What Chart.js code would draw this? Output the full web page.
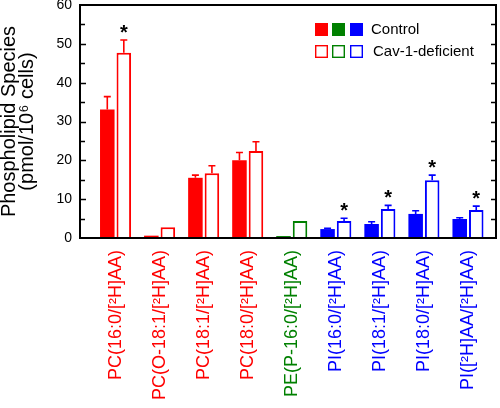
<!DOCTYPE html>
<html>
<head>
<meta charset="utf-8">
<script src="https://cdn.jsdelivr.net/npm/chart.js@4/dist/chart.umd.min.js"></script>
<style>
  html, body { margin: 0; padding: 0; background: #ffffff; }
  #c { display: block; }
</style>
</head>
<body>
<canvas id="c" width="500" height="408"></canvas>
<script>
// ---- Data ----
const categories = ['PC(16:0/[²H]AA)', 'PC(O-18:1/[²H]AA)', 'PC(18:1/[²H]AA)', 'PC(18:0/[²H]AA)',
                    'PE(P-16:0/[²H]AA)', 'PI(16:0/[²H]AA)', 'PI(18:1/[²H]AA)', 'PI(18:0/[²H]AA)',
                    'PI([²H]AA/[²H]AA)'];
const classColors = ['#ff0000', '#ff0000', '#ff0000', '#ff0000', '#008000', '#0000ff', '#0000ff', '#0000ff', '#0000ff'];
const control    = [33.1, 0.6, 15.5, 20.0, 0.5, 2.3, 3.6, 6.2, 4.9];
const controlErr = [3.3, 0, 0.7, 2.0, 0, 0.2, 0.6, 0.8, 0.3];
const cav1       = [47.7, 2.8, 16.7, 22.4, 4.4, 4.4, 7.5, 14.9, 7.2];
const cav1Err    = [3.3, 0, 1.9, 2.4, 0, 0.7, 0.9, 1.3, 1.0];
const significant = [true, false, false, false, false, true, true, true, true];
const yTicks = [0, 10, 20, 30, 40, 50, 60];
const legendLabels = ['Control', 'Cav-1-deficient'];
const legendColors = ['#ff0000', '#008000', '#0000ff'];

const FONT = "'Liberation Sans', Arial, Helvetica, sans-serif";

const decorPlugin = {
  id: 'decor',
  afterDatasetsDraw(chart) {
    const ctx = chart.ctx;
    const y = chart.scales.y;
    const sets = [[control, controlErr], [cav1, cav1Err]];
    ctx.save();
    sets.forEach((s, di) => {
      const meta = chart.getDatasetMeta(di);
      s[0].forEach((v, i) => {
        const e = s[1][i];
        if (!e) return;
        const bx = meta.data[i].x;
        const y0 = y.getPixelForValue(v);
        const y1 = y.getPixelForValue(v + e);
        ctx.strokeStyle = classColors[i];
        ctx.lineWidth = 1.6;
        ctx.beginPath();
        ctx.moveTo(bx, y0);
        ctx.lineTo(bx, y1);
        ctx.moveTo(bx - 3.5, y1);
        ctx.lineTo(bx + 3.5, y1);
        ctx.stroke();
      });
    });
    // significance asterisks
    const meta1 = chart.getDatasetMeta(1);
    ctx.fillStyle = '#000';
    ctx.font = 'bold 20px ' + FONT;
    ctx.textAlign = 'center';
    ctx.textBaseline = 'alphabetic';
    significant.forEach((sig, i) => {
      if (!sig) return;
      const bx = meta1.data[i].x;
      const top = y.getPixelForValue(cav1[i] + cav1Err[i]);
      ctx.fillText('*', bx, top - 1);
    });
    ctx.restore();
  },
  afterDraw(chart) {
    const ctx = chart.ctx;
    const a = chart.chartArea;
    const y = chart.scales.y;
    ctx.save();
    ctx.strokeStyle = '#000';
    ctx.lineWidth = 2;
    ctx.strokeRect(a.left, a.top, a.right - a.left, a.bottom - a.top);
    // inward tick marks every 5 units on left and right
    ctx.lineWidth = 1.6;
    ctx.beginPath();
    for (let v = 5; v < 60; v += 5) {
      const py = Math.round(y.getPixelForValue(v)) + 0.5;
      const lenL = (v % 10 === 0) ? 6 : 5;
      ctx.moveTo(a.left, py); ctx.lineTo(a.left + lenL, py);
      ctx.moveTo(a.right, py); ctx.lineTo(a.right - 5, py);
    }
    ctx.stroke();
    // legend
    const sq = 13;
    const xs = [315, 332, 350];
    xs.forEach((x, k) => {
      ctx.fillStyle = legendColors[k];
      ctx.fillRect(x, 23, sq, sq);
      ctx.strokeStyle = legendColors[k];
      ctx.lineWidth = 1.4;
      ctx.strokeRect(x + 0.7, 45.7, sq - 1.4, sq - 1.4);
    });
    ctx.fillStyle = '#000';
    ctx.font = '15px ' + FONT;
    ctx.textAlign = 'left';
    ctx.textBaseline = 'middle';
    ctx.fillText(legendLabels[0], 371, 30);
    ctx.fillText(legendLabels[1], 373, 52);
    ctx.restore();
  }
};

new Chart(document.getElementById('c'), {
  type: 'bar',
  data: {
    datasets: [
      {
        label: legendLabels[0],
        data: categories.map((_, i) => ({ x: i, y: control[i] })),
        backgroundColor: classColors,
        borderColor: classColors,
        borderWidth: 0
      },
      {
        label: legendLabels[1],
        data: categories.map((_, i) => ({ x: i, y: cav1[i] })),
        backgroundColor: '#ffffff',
        borderColor: classColors,
        borderWidth: 2,
        borderSkipped: 'bottom'
      }
    ]
  },
  options: {
    responsive: false,
    devicePixelRatio: 1,
    animation: false,
    categoryPercentage: 0.75,
    barPercentage: 0.88,
    layout: { padding: { top: 5, right: 4, left: 0, bottom: 0 } },
    plugins: { legend: { display: false }, tooltip: { enabled: false } },
    scales: {
      x: {
        type: 'linear',
        min: -0.807,
        max: 8.636,
        offset: false,
        grid: { display: true, drawOnChartArea: false, drawTicks: false, offset: false },
        border: { display: false },
        afterBuildTicks: (s) => { s.ticks = categories.map((_, i) => ({ value: i })); },
        afterFit: (s) => { s.height = 170; s.paddingLeft = 0; s.paddingRight = 0; },
        ticks: {
          autoSkip: false,
          minRotation: 90,
          maxRotation: 90,
          padding: 12,
          font: { family: FONT, size: 18 },
          color: (c) => classColors[c.tick ? c.tick.value : c.index],
          callback: (v) => categories[v]
        }
      },
      y: {
        min: 0,
        max: 60,
        grid: { display: true, drawOnChartArea: false, drawTicks: false },
        border: { display: false },
        afterBuildTicks: (s) => { s.ticks = yTicks.map(v => ({ value: v })); },
        afterFit: (s) => { s.width = 80; s.paddingTop = 0; s.paddingBottom = 0; },
        ticks: {
          padding: 8,
          color: '#000',
          font: { family: FONT, size: 14 }
        },
        title: {
          display: true,
          text: ['Phospholipid Species', '(pmol/10⁶ cells)'],
          color: '#000',
          font: { family: FONT, size: 20, lineHeight: 0.88 },
          padding: { top: 1, bottom: 0 }
        }
      }
    }
  },
  plugins: [decorPlugin]
});
</script>
</body>
</html>
